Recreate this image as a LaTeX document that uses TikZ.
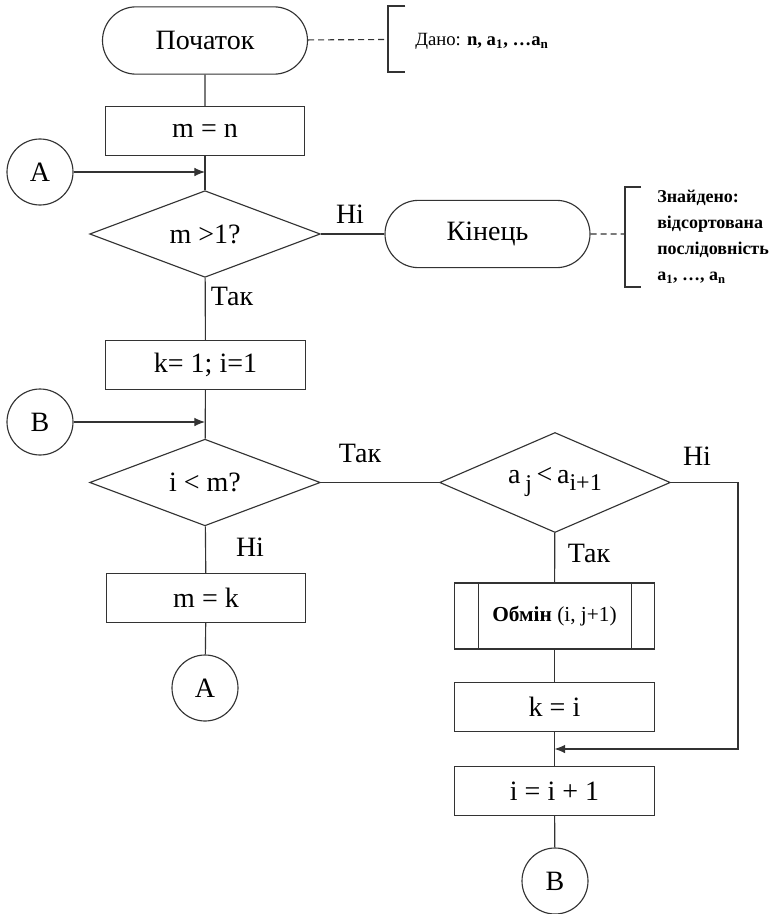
\documentclass[tikz,border=0pt]{standalone}
\usepackage{fontspec}
\setmainfont{Liberation Serif}
\usetikzlibrary{shapes.geometric,shapes.misc,arrows.meta,calc}
\definecolor{ink}{HTML}{333333}
\tikzset{
  ln/.style={draw=ink, line width=0.85pt},
  arr/.style={ln, -{Latex[length=8pt,width=6.5pt]}},
  dsh/.style={ln, dash pattern=on 4.5pt off 3pt},
  big/.style={font=\fontsize{21}{24}\selectfont},
  base/.style={ln, big, inner sep=0pt, text=black},
  term/.style={base, rounded rectangle, minimum width=153.75pt, minimum height=50.5pt},
  proc/.style={base, rectangle, minimum width=149.5pt, minimum height=37pt},
  dec/.style={base, diamond, aspect=2.6, minimum width=173pt, minimum height=65pt},
  conn/.style={base, circle, minimum size=49.5pt},
  lbl/.style={big, inner sep=0pt},
  note/.style={font=\fontsize{14}{19.5}\selectfont, inner sep=0pt, align=left, anchor=west}
}
\begin{document}
\begin{tikzpicture}[x=0.75pt,y=-0.75pt]
\useasboundingbox (0,0) rectangle (783,914);
% nodes
\node[term] (start) at (205,40.5) {Початок};
\node[proc] (mn) at (205,131) {m = n};
\node[conn] (A) at (40,172) {A};
\node[dec] (d1) at (205,234) {m >1?};
\node[term] (end) at (487.5,234) {Кінець};
\node[proc] (k1) at (205.5,365) {k= 1; i=1};
\node[conn] (B) at (40,422) {B};
\node[dec] (d2) at (205,482.5) {i < m?};
\node[dec, minimum height=75pt] (d3) at (555,482.5) {a\,\raisebox{-6pt}{\fontsize{18}{18}\selectfont j}\,<\,a\raisebox{-5pt}{\fontsize{18}{18}\selectfont i+1}};
\node[proc] (mk) at (206,598) {m = k};
\node[conn] (A2) at (205,688) {A};
\node[proc, minimum height=49.5pt, font=\fontsize{16}{18}\selectfont] (ob) at (554.5,616) {\textbf{Обмін} (i, j+1)};
\draw[ln] ($(ob.north west)+(18pt,0)$) coordinate (ob1) -- (ob1 |- ob.south);
\draw[ln] ($(ob.north east)+(-17.5pt,0)$) coordinate (ob2) -- (ob2 |- ob.south);
\node[proc] (ki) at (554.5,707) {k = i};
\node[proc] (ii) at (554.5,791) {i = i + 1};
\node[conn] (B2) at (555,881) {B};
% annotations
\coordinate (br1) at (388,39.5);
\coordinate (br1t) at (388,6);
\coordinate (br1b) at (388,72);
\draw[ln] ($(br1t)+(13pt,0)$) -- (br1t) -- (br1b) -- ($(br1b)+(13pt,0)$);
\node[note] (dano) at (415,41) {Дано: \textbf{n, a\textsubscript{1}, …a\textsubscript{n}}};
\coordinate (br2) at (625,234);
\coordinate (br2t) at (625,187);
\coordinate (br2b) at (625,287);
\draw[ln] ($(br2t)+(12pt,0)$) -- (br2t) -- (br2b) -- ($(br2b)+(12pt,0)$);
\node[note, font=\bfseries\fontsize{13.5}{19.5}\selectfont] (found) at (657,237) {Знайдено:\\відсортована\\послідовність\\a\textsubscript{1}, …, a\textsubscript{n}};
\draw[dsh] (start) -- (br1);
\draw[dsh] (end) -- (br2);
% connectors
\draw[ln] (start) -- (mn);
\draw[ln] (mn) -- (d1);
\draw[arr] (A) -- (A -| d1.north);
\draw[ln] (d1) -- (end);
\draw[ln] (d1) -- (k1);
\draw[ln] (k1) -- (d2);
\draw[arr] (B) -- (B -| d2.north);
\draw[ln] (d2) -- (d3);
\draw[ln] (d2) -- (mk);
\draw[ln] (mk) -- (A2);
\draw[ln] (d3) -- (ob);
\draw[ln] (ob) -- (ki);
\draw[ln] (ki) -- (ii);
\draw[ln] (ii) -- (B2);
\coordinate (rc) at (738,482.5);
\coordinate (join) at ($(ki.south)!0.5!(ii.north)$);
\draw[arr] (d3.east) -- (rc) |- (join);
% labels
\node[lbl] at (350,214) {Ні};
\node[lbl] at (232,296) {Так};
\node[lbl] at (360,453) {Так};
\node[lbl] at (697,456) {Ні};
\node[lbl] at (250,547) {Ні};
\node[lbl] at (589,553) {Так};
\end{tikzpicture}
\end{document}
